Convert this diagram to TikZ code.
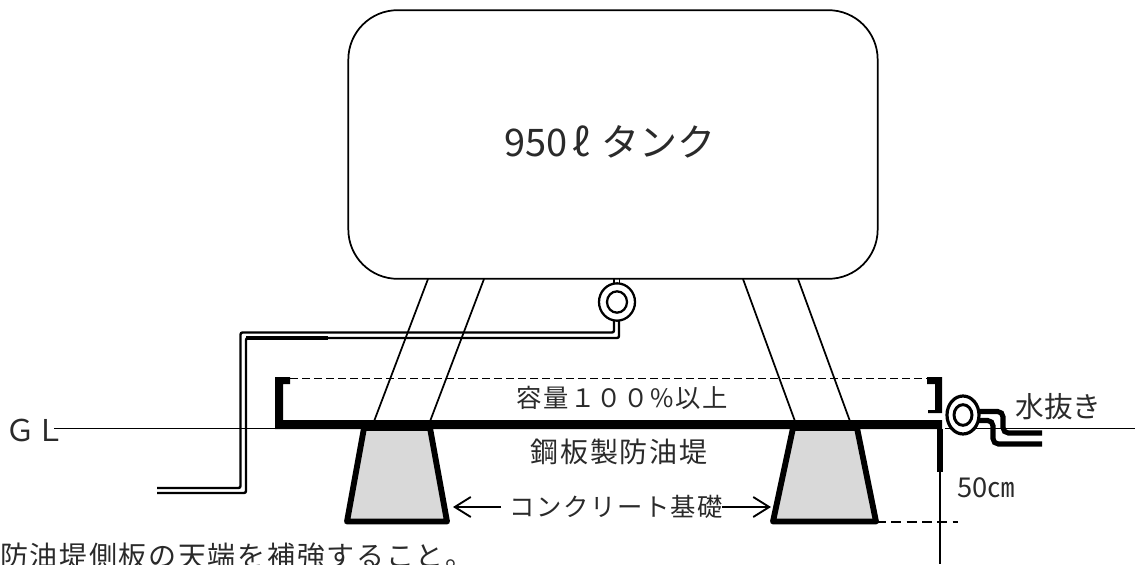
\documentclass[tikz,border=0pt]{standalone}
\usepackage{fontspec}
\setmainfont{Noto Sans CJK JP}
\newfontfamily\jpa[LetterSpace=6]{Noto Sans CJK JP}
\definecolor{fillgray}{HTML}{D9D9D9}
\definecolor{inkgray}{HTML}{2A2A2A}
\usetikzlibrary{arrows.meta,shapes.geometric}
\tikzset{
  thinline/.style={draw=black,line width=1.3pt},
  pipeline/.style={draw=black,line width=1.8pt,rounded corners=1.5pt},
  heavypipe/.style={draw=black,line width=3.8pt,rounded corners=4pt},
  bund/.style={fill=black,draw=none},
  footing/.style={draw=black,fill=fillgray,line width=4.4pt,line join=round},
  valve/.style={draw=black,fill=white,ellipse,line width=1.7pt,inner sep=0pt},
  lbl/.style={inner sep=0pt,text=inkgray,anchor=center},
  openarrow/.style={draw=black,line width=1.4pt,-{Straight Barb[length=12pt,width=15pt,line width=1.4pt]}},
  dashline/.style={draw=black,line width=.75pt,dash pattern=on 6pt off 3pt},
}
\begin{document}
\begin{tikzpicture}[x=0.75pt,y=-0.75pt]
\useasboundingbox (0,0) rectangle (1135,564);
\clip (0,0) rectangle (1135,564);
% ground line
\coordinate (glL) at (54,428.5); \coordinate (glLe) at (275,428.5);
\coordinate (glR) at (945,428.5); \coordinate (glRe) at (1135,428.5);
\draw[thinline] (glL) -- (glLe);
\draw[thinline] (glR) -- (glRe);
% legs
\coordinate (a1) at (428,279); \coordinate (a2) at (373,424);
\coordinate (b1) at (484,279); \coordinate (b2) at (429,424);
\coordinate (c1) at (743,279); \coordinate (c2) at (796,424);
\coordinate (d1) at (798,279); \coordinate (d2) at (851,424);
\draw[thinline] (a1)--(a2); \draw[thinline] (b1)--(b2);
\draw[thinline] (c1)--(c2); \draw[thinline] (d1)--(d2);
% tank
\node[draw=black,line width=1.3pt,fill=white,rounded corners=37pt,minimum width=397pt,minimum height=201.5pt,inner sep=0pt] (tank) at (613,144.5) {};
\node[lbl,font=\fontsize{28.5pt}{32pt}\selectfont] (tanklabel) at (610,142) {950\hspace{.12em}ℓ\hspace{.3em}タンク};
% drain pipe left
\coordinate (p1) at (619,300); \coordinate (p2) at (619,338); \coordinate (p3) at (246,338); \coordinate (p4) at (246,493); \coordinate (p5) at (157,493);
\coordinate (q1) at (614,300); \coordinate (q2) at (614,332.5); \coordinate (q3) at (240.5,332.5); \coordinate (q4) at (240.5,488); \coordinate (q5) at (157,488);
\coordinate (pk) at (328,338);
\draw[pipeline] (p1)--(p2)--(p3)--(p4)--(p5);
\draw[pipeline] (q1)--(q2)--(q3)--(q4)--(q5);
\draw[draw=black,line width=2.4pt] (p3)--(pk);
\coordinate (s1) at (614,279); \coordinate (s2) at (614,290); \coordinate (s3) at (619.5,279); \coordinate (s4) at (619.5,290);
\draw[thinline] (s1)--(s2); \draw[thinline] (s3)--(s4);
\node[valve,minimum width=27pt,minimum height=28pt] (v1) at (617,302) {};
\node[valve,minimum width=15pt,minimum height=16pt] (v1i) at (617,302) {};
% bund
\fill[bund] (275,377) -- (290,377) -- (290,384) -- (283,384) -- (283,420) -- (942,420) -- (942,429) -- (275,429) -- cycle;
\fill[bund] (927,377) -- (942,377) -- (942,413) -- (928,413) -- (928,410) -- (935,410) -- (935,384) -- (927,384) -- cycle;
\fill[bund] (937,429) rectangle (943,472);
\coordinate (dashL) at (290,378); \coordinate (dashR) at (927,378);
\draw[dashline] (dashL)--(dashR);
% dimension line
\coordinate (dimT) at (940,472); \coordinate (dimB) at (940,564);
\draw[thinline] (dimT)--(dimB);
\coordinate (dash2L) at (876,522); \coordinate (dash2R) at (958,522);
\draw[draw=black,line width=1.1pt,dash pattern=on 7.5pt off 4pt] (dash2L)--(dash2R);
% footings
\draw[footing] (364,428) -- (347,521.5) -- (447,521.5) -- (430,428) -- cycle;
\draw[footing] (793,428) -- (773,521.5) -- (876,521.5) -- (857,428) -- cycle;
\fill[bund] (355,420) rectangle (860,429);
% water drain pipes
\coordinate (u1) at (975,411.5); \coordinate (u2) at (1003,411.5); \coordinate (u3) at (1003,433); \coordinate (u4) at (1042,433);
\coordinate (w1) at (975,420.5); \coordinate (w2) at (993,420.5); \coordinate (w3) at (993,444); \coordinate (w4) at (1042,444);
\draw[heavypipe] (u1)--(u2)--(u3)--(u4);
\draw[heavypipe] (w1)--(w2)--(w3)--(w4);
\node[valve,line width=2.4pt,minimum width=24pt,minimum height=28.5pt] (v2) at (963,415) {};
\node[valve,line width=2.2pt,minimum width=13.5pt,minimum height=15.5pt] (v2i) at (963,415) {};
% arrows
\node[lbl,font=\jpa\fontsize{19pt}{20pt}\selectfont] (conc) at (616.5,507) {コンクリート基礎};
\coordinate (arrL) at (453,507); \coordinate (arrLs) at (501,507);
\coordinate (arrR) at (771,507); \coordinate (arrRs) at (722,507);
\draw[openarrow] (arrLs)--(arrL);
\draw[openarrow] (arrRs)--(arrR);
% labels
\node[lbl,font=\jpa\fontsize{19pt}{20pt}\selectfont] (cap) at (622,398) {容量１００\%以上};
\node[lbl,font=\jpa\fontsize{21pt}{22pt}\selectfont] (steel) at (619,451.5) {鋼板製防油堤};
\node[lbl,font=\fontsize{21.5pt}{22pt}\selectfont] (mizu) at (1058.5,407) {水抜き};
\node[lbl,font=\fontsize{22.5pt}{24pt}\selectfont] (gl) at (36,430.5) {ＧＬ};
\node[lbl,font=\fontsize{20.5pt}{22pt}\selectfont] (fifty) at (986,488) {50㎝};
\node[lbl,anchor=west,font=\jpa\fontsize{21pt}{22pt}\selectfont] (note) at (0,556) {防油堤側板の天端を補強すること。};
\end{tikzpicture}
\end{document}
